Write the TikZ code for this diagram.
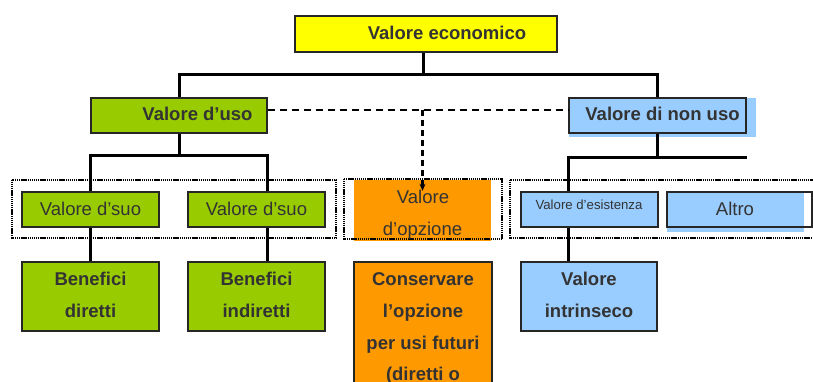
\documentclass[tikz,border=0pt]{standalone}
\usepackage{fontspec}
\setmainfont{Liberation Sans}
\usetikzlibrary{arrows.meta}
\definecolor{cyel}{HTML}{FFFF00}
\definecolor{cgreen}{HTML}{99CC00}
\definecolor{cblue}{HTML}{99CCFF}
\definecolor{corange}{HTML}{FF9900}
\definecolor{ctext}{HTML}{333333}
\newcommand\bigtxt{\fontsize{18.5}{22}\selectfont}
\newcommand\smalltxt{\fontsize{13.2}{16}\selectfont}
\tikzset{
  box/.style={draw=black!85, line width=1.1pt, rectangle, inner sep=0pt},
  conn/.style={draw=black, line width=3pt, line join=miter},
  dashconn/.style={draw=black, line width=2.6pt, dash pattern=on 7pt off 5pt},
  arrconn/.style={draw=black, line width=2.2pt, dash pattern=on 6pt off 4pt, -{Stealth[length=7pt,width=6pt]}},
  cont/.style={draw=black, line width=2.5pt, dash pattern=on 1.2pt off 0.7pt},
  txt/.style={anchor=base, inner sep=0pt, text=ctext, font=\bigtxt},
  btxt/.style={txt, font=\bigtxt\bfseries},
}
\begin{document}
\begin{tikzpicture}[x=1pt,y=-1pt]
\useasboundingbox (0,0) rectangle (813,382);
\clip (0,0) rectangle (813,382);
% orange option background
\node[rectangle, fill=corange, inner sep=0pt, minimum width=137pt, minimum height=61pt] (opz) at (422.5,210.5) {};
% dotted containers
\draw[cont] (12,180) rectangle (336,238);
\draw[cont] (344,179) rectangle (502,239);
\draw[cont] (510,180) rectangle (818,238);
% shadows
\fill[cblue] (569,98) rectangle (756,137);
\fill[cblue] (667,192) rectangle (804,232);
% helper coordinates
\coordinate (bar) at (0,75);
\coordinate (dy) at (0,110);
% boxes (positions)
\node[box, fill=cyel, minimum width=262pt, minimum height=36pt] (econ) at (426,34) {};
\node[box, fill=cgreen, minimum width=176pt, minimum height=35pt] (uso) at (179,115.5) {};
\node[box, fill=cblue, minimum width=177pt, minimum height=35pt] (nonuso) at (657.5,115.5) {};
\node[box, fill=cgreen, minimum width=137pt, minimum height=69pt] (bd) at (90.5,296.5) {};
\node[box, fill=cgreen, minimum width=137pt, minimum height=69pt] (bi) at (256.5,296.5) {};
\node[box, fill=cblue, minimum width=136pt, minimum height=69pt] (vi) at (589,296.5) {};
\node[box, fill=corange, minimum width=138pt, minimum height=140pt] (cons) at (423,332) {};
% connectors
\draw[conn] ([xshift=-3pt]econ.south) -- ([xshift=-3pt]econ.south |- bar);
\draw[conn] (uso.north) |- (bar -| nonuso.north) -- (nonuso.north);
\path (uso.south) ++(0,22) coordinate (uj);
\draw[conn] (uso.south) -- (uj);
\draw[conn] (bd.north -| uso.west) |- (uj) -| (bi.north -| uso.east);
\path (nonuso.south) ++(0,24) coordinate (nj);
\draw[conn] (nonuso.south) -- (nj);
\draw[conn] (vi.north -| nonuso.west) |- (nj) -- (nj -| nonuso.east);
\draw[dashconn] (uso.east |- dy) -- (nonuso.west |- dy);
\draw[arrconn] (opz.north |- dy) -- ([yshift=-11pt]opz.north);
% middle row boxes
\node[box, fill=cgreen, minimum width=137pt, minimum height=35pt] (vs1) at (90.5,209.5) {};
\node[box, fill=cgreen, minimum width=137pt, minimum height=35pt] (vs2) at (256.5,209.5) {};
\node[box, fill=cblue, minimum width=137pt, minimum height=35pt] (ves) at (589.5,209.5) {};
\draw[box] (818,192) -- (667,192) -- (667,227) -- (818,227);
\draw[draw=black!85, line width=1.1pt] (812,192) -- (812,227);
% texts
\node[btxt] (t1) at (447,40) {Valore economico};
\node[btxt] (t2) at (197.5,121) {Valore d’uso};
\node[btxt] (t3) at (662.5,121) {Valore di non uso};
\node[txt] (t4) at (90.5,215) {Valore d’suo};
\node[txt] (t5) at (256.5,215) {Valore d’suo};
\node[txt] (t6) at (423,204) {Valore};
\node[txt] (t7) at (422.5,235) {d’opzione};
\node[txt, font=\smalltxt] (t8) at (589,209) {Valore d’esistenza};
\node[txt] (t9) at (735,215) {Altro};
\node[btxt] (t10) at (90.5,285) {Benefici};
\node[btxt] (t11) at (90.5,317) {diretti};
\node[btxt] (t12) at (256.5,285) {Benefici};
\node[btxt] (t13) at (256.5,317) {indiretti};
\node[btxt] (t14) at (589,285) {Valore};
\node[btxt] (t15) at (589,317) {intrinseco};
\node[btxt] (t16) at (423,285) {Conservare};
\node[btxt] (t17) at (423,317) {l’opzione};
\node[btxt] (t18) at (423,349) {per usi futuri};
\node[btxt] (t19) at (423,380) {(diretti o};
\end{tikzpicture}
\end{document}
